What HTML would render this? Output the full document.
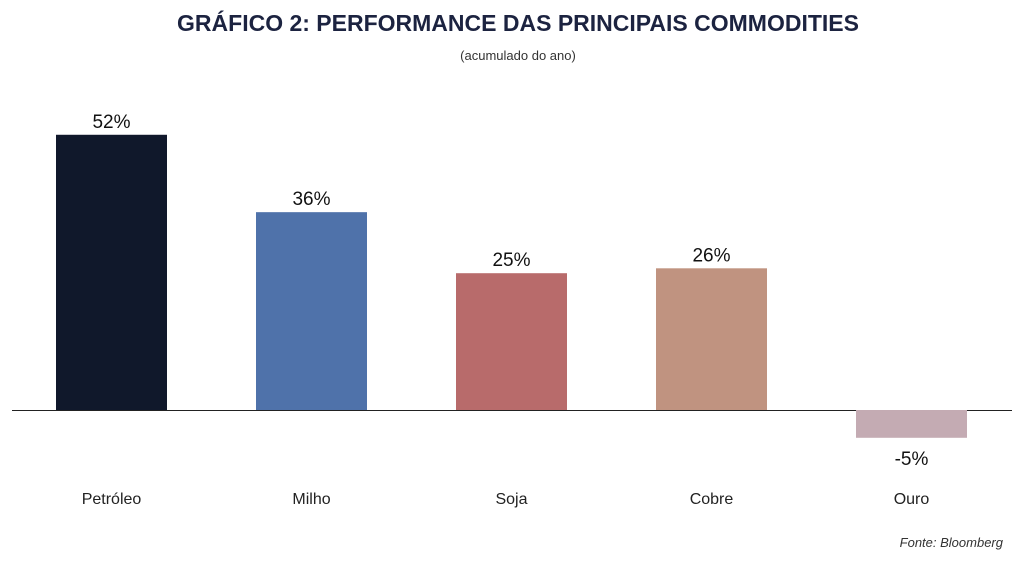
<!DOCTYPE html>
<html><head><meta charset="utf-8"><style>
body{margin:0;width:1024px;height:562px;background:#fff;font-family:"Liberation Sans",sans-serif;overflow:hidden}
svg{display:block}
</style></head><body>
<svg id="chart" width="1024" height="562" viewBox="0 0 1024 562">
<text x="518" y="31" text-anchor="middle" font-size="23" font-weight="bold" fill="#1c2340">GRÁFICO 2: PERFORMANCE DAS PRINCIPAIS COMMODITIES</text>
<text x="518" y="60" text-anchor="middle" font-size="13" fill="#333">(acumulado do ano)</text>
<line x1="12" y1="410.5" x2="1012" y2="410.5" stroke="#222" stroke-width="1"/>
<g id="bars"></g>
<text x="1003" y="547" text-anchor="end" font-size="13" font-style="italic" fill="#333">Fonte: Bloomberg</text>
</svg>
<script>
const categories=["Petróleo","Milho","Soja","Cobre","Ouro"];
const values=[50.5,36.3,25.1,26.0,-5.1];
const valueLabels=["52%","36%","25%","26%","-5%"];
const colors=["#10182b","#4f72aa","#b86b6b","#c09380","#c4abb3"];
const zeroY=410, pxPer=5.45, x0=56, step=200, bw=111;
const y=v=>zeroY-v*pxPer;
const g=document.getElementById('bars');
const NS="http://www.w3.org/2000/svg";
categories.forEach((c,i)=>{
  const v=values[i], x=x0+i*step;
  const r=document.createElementNS(NS,'rect');
  
  
  r.setAttribute('x',x);r.setAttribute('width',bw);
  r.setAttribute('y',Math.min(y(v),zeroY));r.setAttribute('height',Math.abs(y(v)-zeroY));
  r.setAttribute('fill',colors[i]);g.appendChild(r);
  const t=document.createElementNS(NS,'text');
  
  
  t.setAttribute('x',x+bw/2);t.setAttribute('text-anchor','middle');
  t.setAttribute('font-size','19');t.setAttribute('fill','#111');
  t.setAttribute('y',v>=0?y(v)-7:y(v)+27);
  t.textContent=valueLabels[i];g.appendChild(t);
  const l=document.createElementNS(NS,'text');
  
  
  l.setAttribute('x',x+bw/2);l.setAttribute('y',504);l.setAttribute('text-anchor','middle');
  l.setAttribute('font-size','16');l.setAttribute('fill','#222');
  l.textContent=c;g.appendChild(l);
});
</script>
</body></html>
